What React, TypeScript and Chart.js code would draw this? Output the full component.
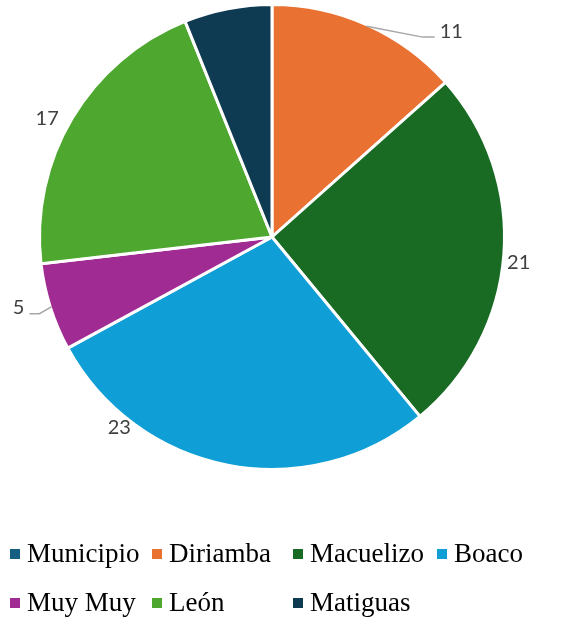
import React, { useEffect, useRef } from "react";
import { Chart, registerables } from "chart.js";

Chart.register(...registerables);

const categories = ["Municipio", "Diriamba", "Macuelizo", "Boaco", "Muy Muy", "León", "Matiguas"];
const values = [0, 11, 21, 23, 5, 17, 5];
const showLabel = [false, true, true, true, true, true, false];
const colors = ["#156082", "#E97132", "#196B24", "#0F9ED5", "#A02B93", "#4EA72E", "#0F3B52"];

// label placement: fraction along the slice's arc, extra distance beyond the edge, leader line
const labelPlacement = [
  { frac: 0.5, extra: 20, leader: false },
  { frac: 0.85, extra: 42, leader: true },
  { frac: 0.517, extra: 17, leader: false },
  { frac: 0.775, extra: 13, leader: false },
  { frac: 0.59, extra: 32, leader: true },
  { frac: 0.46, extra: 23, leader: false },
  { frac: 0.5, extra: 20, leader: false },
];

const labelPlugin = {
  id: "sliceLabels",
  afterDatasetsDraw(chart: any) {
    const ctx = chart.ctx;
    const meta = chart.getDatasetMeta(0);
    ctx.save();
    ctx.font = "20px Lato";
    ctx.fillStyle = "#404040";
    ctx.textAlign = "center";
    ctx.textBaseline = "middle";
    meta.data.forEach((arc: any, i: number) => {
      if (!showLabel[i]) return;
      const p = arc.getProps(["x", "y", "startAngle", "endAngle", "outerRadius"], true);
      const pl = labelPlacement[i];
      const a = p.startAngle + (p.endAngle - p.startAngle) * pl.frac;
      const r = p.outerRadius - 1.5;
      const lx = p.x + Math.cos(a) * (r + pl.extra);
      const ly = p.y + Math.sin(a) * (r + pl.extra);
      const text = String(values[i]);
      if (pl.leader) {
        const mid = (p.startAngle + p.endAngle) / 2;
        const sx = p.x + Math.cos(mid) * r;
        const sy = p.y + Math.sin(mid) * r;
        const w = ctx.measureText(text).width;
        const right = lx > p.x;
        const endX = right ? lx - w / 2 - 5 : lx + w / 2 + 5;
        const elbowX = right ? endX - 12 : endX + 10;
        const ly2 = ly + 6;
        ctx.beginPath();
        ctx.strokeStyle = "#A6A6A6";
        ctx.lineWidth = 1.5;
        ctx.moveTo(sx, sy);
        ctx.lineTo(elbowX, ly2);
        ctx.lineTo(endX, ly2);
        ctx.stroke();
      }
      ctx.fillText(text, lx, ly);
    });
    ctx.restore();
  },
};

export default function App() {
  const canvasRef = useRef<HTMLCanvasElement | null>(null);

  useEffect(() => {
    if (!canvasRef.current) return;
    const chart = new Chart(canvasRef.current, {
      type: "pie",
      data: {
        labels: categories,
        datasets: [
          {
            data: values,
            backgroundColor: colors,
            borderColor: "#FFFFFF",
            borderWidth: 3,
            hoverOffset: 0,
            hoverBorderWidth: 0,
          },
        ],
      },
      options: {
        animation: false,
        responsive: false,
        maintainAspectRatio: false,
        events: [],
        layout: { padding: { left: 38, top: 3, right: 58, bottom: 147 } },
        plugins: {
          legend: { display: false },
          tooltip: { enabled: false },
        },
      },
      plugins: [labelPlugin],
    });
    return () => chart.destroy();
  }, []);

  return (
    <div style={{ position: "absolute", left: 0, top: 0, width: 564, height: 618, background: "#fff" }}>
      <canvas ref={canvasRef} width={564} height={618} style={{ position: "absolute", left: 0, top: 0 }} />
      <div
        style={{
          position: "absolute",
          left: 10,
          top: 529,
          display: "grid",
          gridTemplateColumns: "142px 141px 144px auto",
          gridAutoRows: "49px",
          fontFamily: "'Liberation Serif', 'Times New Roman', serif",
          fontSize: 27,
          lineHeight: "49px",
          color: "#000",
          whiteSpace: "nowrap",
        }}
      >
        {categories.map((c, i) => (
          <div key={c} style={{ display: "flex", alignItems: "center" }}>
            <span style={{ display: "inline-block", width: 10, height: 10, background: colors[i], marginRight: 7 }} />
            <span>{c}</span>
          </div>
        ))}
      </div>
    </div>
  );
}
